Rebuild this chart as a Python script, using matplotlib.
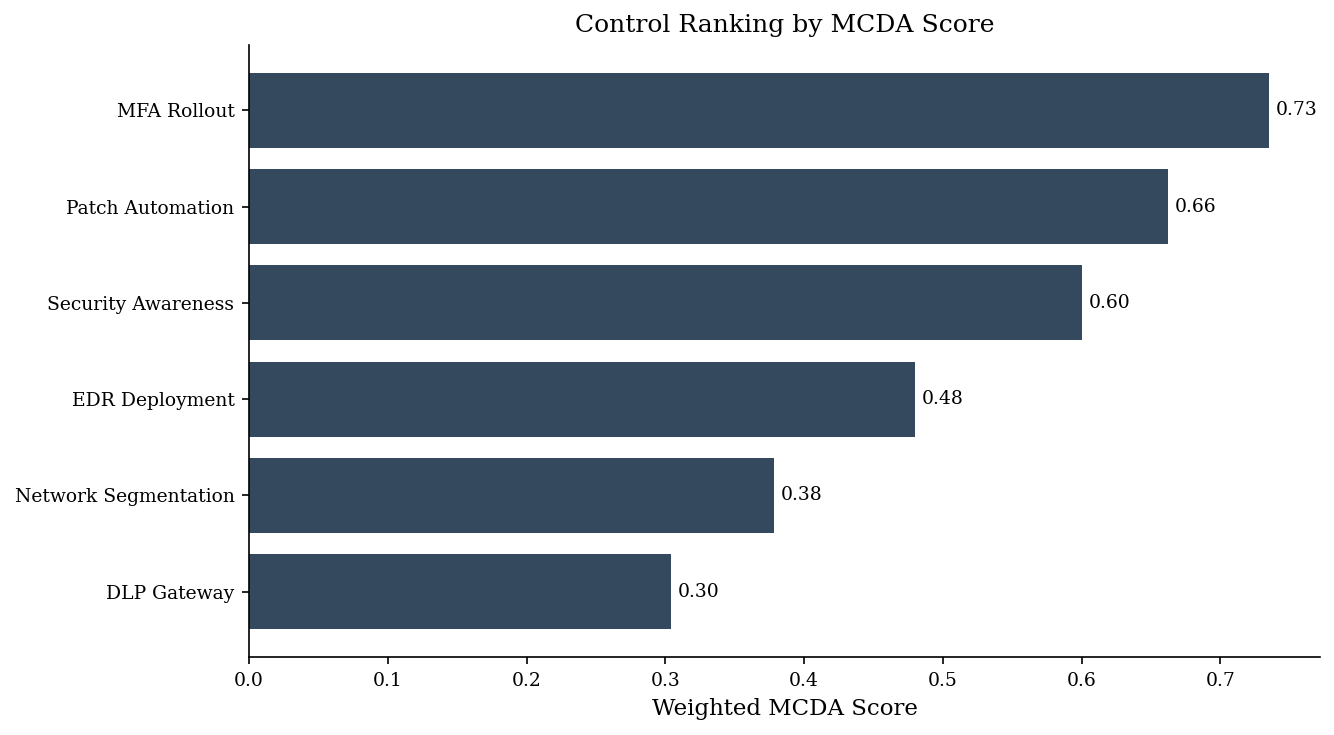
import matplotlib
matplotlib.use("Agg")
import matplotlib.pyplot as plt

controls = ["MFA Rollout", "Patch Automation", "Security Awareness", "EDR Deployment", "Network Segmentation", "DLP Gateway"]
scores = [0.735, 0.662, 0.600, 0.480, 0.378, 0.304]

plt.rcParams['font.family'] = ['DejaVu Serif']

fig, ax = plt.subplots(figsize=(1334 / 150, 735 / 150), dpi=150)
fig.subplots_adjust(left=0.1867, right=0.9895, top=0.9388, bottom=0.1061)

y = list(range(len(controls)))[::-1]
ax.barh(y, scores, height=0.78, color="#34495e")
for yi, s in zip(y, scores):
    ax.text(s + 0.005, yi, f"{s:.2f}", va="center", ha="left", fontsize=9)
ax.set_yticks(y)
ax.set_yticklabels(controls, fontsize=9)
ax.tick_params(axis="x", labelsize=9)
ax.set_xlabel("Weighted MCDA Score", fontsize=11)
ax.set_title("Control Ranking by MCDA Score", fontsize=12)
ax.spines["top"].set_visible(False)
ax.spines["right"].set_visible(False)
fig.savefig("out.png", dpi=150)
